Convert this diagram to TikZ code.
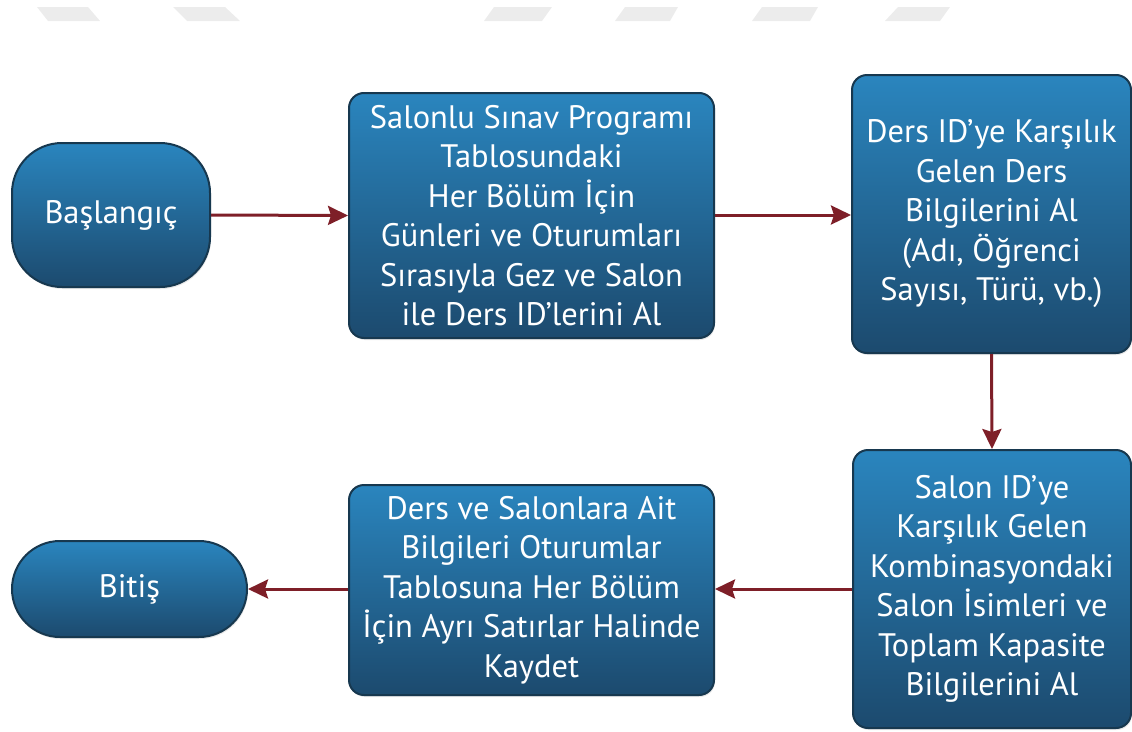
\documentclass[tikz,border=0pt]{standalone}
\usepackage{fontspec}
\setmainfont{PT Sans}
\usetikzlibrary{arrows.meta,shadows}
\definecolor{boxtop}{HTML}{2A85BE}
\definecolor{boxbot}{HTML}{1C4A6E}
\definecolor{boxline}{HTML}{17384F}
\definecolor{arrowred}{HTML}{7E1F28}
\definecolor{wmark}{HTML}{ECECEC}
\tikzset{
  flowbox/.style={draw=boxline, line width=2pt, top color=boxtop, bottom color=boxbot,
    text=white, align=center, inner sep=0pt, rounded corners=15pt,
    font=\fontsize{32.5}{39.5}\selectfont,
    drop shadow={opacity=0.18, shadow xshift=1pt, shadow yshift=-2pt}},
  flowarrow/.style={draw=arrowred, line width=3pt,
    -{Stealth[length=20pt,width=19pt,inset=3pt]}},
  wm/.style={fill=wmark, draw=none}
}
\begin{document}
\begin{tikzpicture}[x=1pt,y=-1pt]
\useasboundingbox (0,0) rectangle (1132,731);
% watermark fragments
\fill[wm] (37,7) -- (88,7) -- (100,21) -- (48,21) -- cycle;
\fill[wm] (173,7) -- (225,7) -- (240,21) -- (187,21) -- cycle;
\fill[wm] (494,7) -- (552,7) -- (542,21) -- (484,21) -- cycle;
\fill[wm] (625,7) -- (678,7) -- (670,21) -- (615,21) -- cycle;
\fill[wm] (762,7) -- (818,7) -- (810,21) -- (752,21) -- cycle;
\fill[wm] (898,7) -- (950,7) -- (940,21) -- (885,21) -- cycle;

\node[flowbox, rounded corners=50pt, minimum width=198pt, minimum height=144pt] (start) at (111,215) {Başlangıç};
\node[flowbox, minimum width=365pt, minimum height=245pt] (b1) at (531.5,215.5)
  {Salonlu Sınav Programı\\Tablosundaki\\Her Bölüm İçin\\Günleri ve Oturumları\\Sırasıyla Gez ve Salon\\ile Ders ID’lerini Al};
\node[flowbox, minimum width=279pt, minimum height=278pt] (b2) at (991.5,214)
  {Ders ID’ye Karşılık\\Gelen Ders\\Bilgilerini Al\\(Adı, Öğrenci\\Sayısı, Türü, vb.)};
\node[flowbox, minimum width=278pt, minimum height=278pt] (b3) at (992,589)
  {Salon ID’ye\\Karşılık Gelen\\Kombinasyondaki\\Salon İsimleri ve\\Toplam Kapasite\\Bilgilerini Al};
\node[flowbox, minimum width=365pt, minimum height=210pt] (b4) at (531.5,590)
  {Ders ve Salonlara Ait\\Bilgileri Oturumlar\\Tablosuna Her Bölüm\\İçin Ayrı Satırlar Halinde\\Kaydet};
\node[flowbox, rounded corners=48pt, minimum width=235pt, minimum height=96pt] (end) at (129.5,589) {Bitiş};

\draw[flowarrow] (start.east) -- (b1.west);
\draw[flowarrow] (b1.east |- start.east) -- (b2.west |- start.east);
\draw[flowarrow] (b2.south) -- (b3.north);
\draw[flowarrow] (b3.west) -- (b4.east |- b3.west);
\draw[flowarrow] (b4.west |- b3.west) -- (end.east);
\end{tikzpicture}
\end{document}
